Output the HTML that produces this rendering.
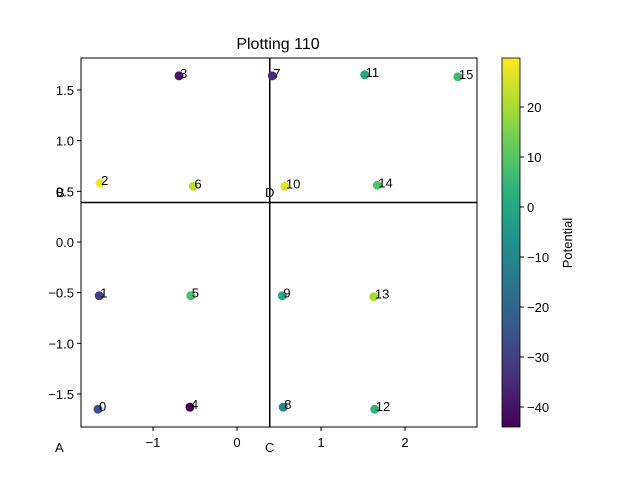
<!DOCTYPE html>
<html><head><meta charset="utf-8"><style>body{margin:0;background:#fff}svg{font-family:"Liberation Sans","DejaVu Sans",sans-serif}</style></head>
<body>
<svg width="640" height="480" xmlns="http://www.w3.org/2000/svg">
<defs><linearGradient id="vir" x1="0" y1="1" x2="0" y2="0">
<stop offset="0" stop-color="#440154"/><stop offset="0.125" stop-color="#472d7b"/><stop offset="0.25" stop-color="#3b528b"/><stop offset="0.375" stop-color="#2c728e"/><stop offset="0.5" stop-color="#21918c"/><stop offset="0.625" stop-color="#28ae80"/><stop offset="0.75" stop-color="#5ec962"/><stop offset="0.875" stop-color="#addc30"/><stop offset="1" stop-color="#fde725"/></linearGradient></defs>
<text x="278" y="49" font-size="16" text-anchor="middle">Plotting 110</text>
<g id="plot"></g>
<rect x="81" y="58" width="396" height="369" fill="none" stroke="#000" stroke-width="1"/>
<rect x="502" y="58" width="18" height="369" fill="url(#vir)" stroke="#000" stroke-width="0.8"/>
<g id="cbar"></g>
<text transform="translate(572,243) rotate(-90)" font-size="13" text-anchor="middle">Potential</text>
</svg>
<script>
const ids=[0,1,2,3,4,5,6,7,8,9,10,11,12,13,14,15];
const xs=[-1.655,-1.64,-1.63,-0.69,-0.56,-0.55,-0.52,0.42,0.55,0.54,0.57,1.52,1.64,1.63,1.67,2.63];
const ys=[-1.65,-0.53,0.58,1.64,-1.63,-0.53,0.55,1.64,-1.63,-0.53,0.55,1.65,-1.65,-0.54,0.56,1.63];
const potentials=[-25,-30,28,-40,-44,8,22,-35,-10,0,27,0,3,20,9,6];
const xTicks=[-1,0,1,2];
const yTicks=[-1.5,-1.0,-0.5,0.0,0.5,1.0,1.5];
const cTicks=[-40,-30,-20,-10,0,10,20];
const lineX=0.39, lineY=0.39;
const X=v=>237+v*84, Y=v=>242-v*101.33;
const cmin=-44,cmax=29.8;const C=v=>427-(v-cmin)/(cmax-cmin)*369;
const NS="http://www.w3.org/2000/svg";
function mk(t,a,p){const e=document.createElementNS(NS,t);for(const k in a)e.setAttribute(k,a[k]);p.appendChild(e);return e;}
const stops=[[68,1,84],[71,45,123],[59,82,139],[44,114,142],[33,145,140],[40,174,128],[94,201,98],[173,220,48],[253,231,37]];
function cmap(v){let t=Math.max(0,Math.min(1,(v-cmin)/(cmax-cmin)))*8;const i=Math.min(7,Math.floor(t)),f=t-i;const a=stops[i],b=stops[i+1];return`rgb(${a.map((c,j)=>Math.round(c+(b[j]-c)*f)).join(',')})`;}
const g=document.getElementById('plot');
xTicks.forEach(v=>{const t=mk('line',{x1:X(v),x2:X(v),y1:427,y2:431,stroke:'#000'},g);
const l=mk('text',{x:X(v),y:447,'font-size':13,'text-anchor':'middle'},g);l.textContent=v<0?'\u2212'+(-v):v;});
yTicks.forEach(v=>{const t=mk('line',{x1:77,x2:81,y1:Y(v),y2:Y(v),stroke:'#000'},g);
const l=mk('text',{x:74,y:Y(v)+5,'font-size':13,'text-anchor':'end'},g);l.textContent=(v<0?'\u2212':'')+Math.abs(v).toFixed(1);});
let e=mk('line',{x1:X(lineX),x2:X(lineX),y1:58,y2:427,stroke:'#000','stroke-width':1.5},g);
e=mk('line',{x1:81,x2:477,y1:Y(lineY),y2:Y(lineY),stroke:'#000','stroke-width':1.5},g);
[['A',55,452],['B',56,197],['C',265,452],['D',265,197]].forEach(([s,x,y])=>{const t=mk('text',{x:x,y:y,'font-size':13},g);t.textContent=s;});
ids.forEach((id,i)=>{const c=mk('circle',{cx:X(xs[i]),cy:Y(ys[i]),r:4.5,fill:cmap(potentials[i])},g);
const t=mk('text',{x:X(xs[i])+1,y:Y(ys[i])+2,'font-size':13},g);t.textContent=id;});
const cb=document.getElementById('cbar');
cTicks.forEach(v=>{const t=mk('line',{x1:520,x2:524,y1:C(v),y2:C(v),stroke:'#000'},cb);
const l=mk('text',{x:527,y:C(v)+5,'font-size':13},cb);l.textContent=v<0?'\u2212'+(-v):v;});
</script>
</body></html>
